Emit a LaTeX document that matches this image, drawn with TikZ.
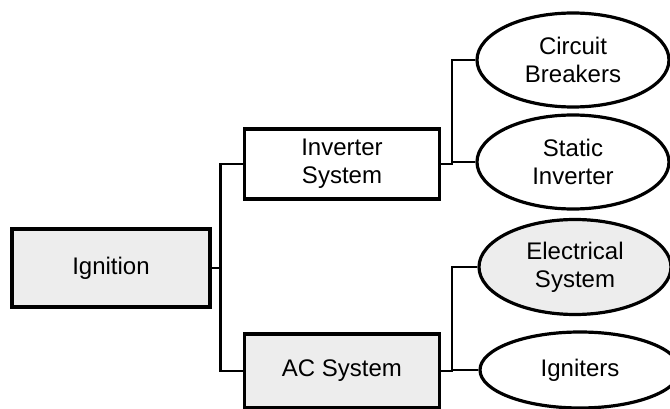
\documentclass[tikz,border=0pt]{standalone}
\usepackage{fontspec}
\setmainfont{Liberation Sans}
\usetikzlibrary{shapes.geometric}

\begin{document}
\begin{tikzpicture}[x=1pt,y=-1pt,
  box/.style={draw,line width=3.2pt,rectangle,inner sep=0pt,align=center,font=\fontsize{24}{28}\selectfont},
  oval/.style={draw,line width=3.2pt,ellipse,inner sep=0pt,align=center,minimum width=192pt,font=\fontsize{24}{28}\selectfont},
  shade/.style={fill=black!7},
  link/.style={line width=2.4pt}]
\clip (0,0) rectangle (670,409);
\node[box,shade,minimum width=198pt,minimum height=78pt] (ign) at (111,268) {Ignition};
\node[box,minimum width=195pt,minimum height=70pt] (inv) at (342,164) {Inverter\\System};
\node[box,shade,minimum width=195pt,minimum height=74pt] (ac) at (342,371) {AC System};
\node[oval,minimum height=94pt] (cb) at (573,60) {Circuit\\Breakers};
\node[oval,minimum height=94pt] (si) at (573,162) {Static\\Inverter};
\node[oval,shade,minimum height=95pt] (es) at (575,267) {Electrical\\System};
\node[oval,minimum height=76pt,minimum width=200pt] (ig) at (580,370) {Igniters};
\draw[link] (ign.east) -- ++(9,0) |- (inv.west);
\draw[link] (ign.east) -- ++(9,0) |- (ac.west);
\draw[link] (inv.east) -- ++(11,0) |- (cb.west);
\draw[link] (inv.east) -- ++(11,0) |- (si.west);
\draw[link] (ac.east) -- ++(11,0) |- (es.west);
\draw[link] (ac.east) -- ++(11,0) |- (ig.west);
\end{tikzpicture}
\end{document}
